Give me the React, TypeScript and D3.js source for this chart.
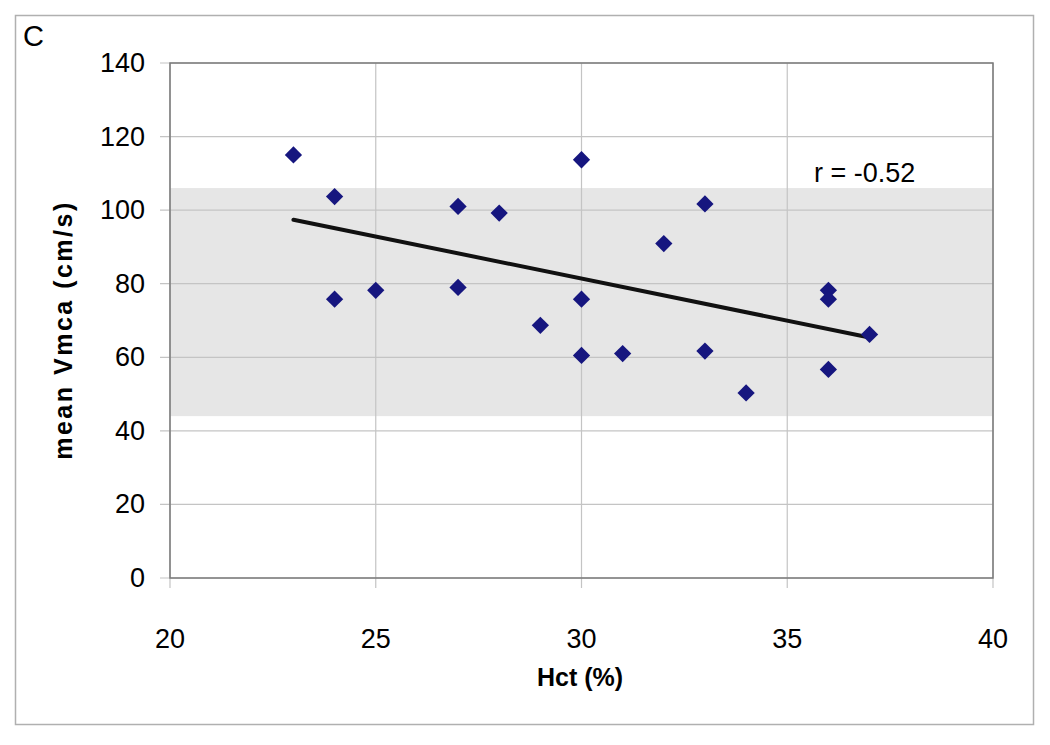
import * as d3 from 'd3';

const hct = [23, 24, 24, 25, 27, 27, 28, 29, 30, 30, 30, 31, 32, 33, 33, 34, 36, 36, 36, 37];
const vmca = [115, 103.7, 75.8, 78.2, 101, 79, 99.2, 68.7, 113.7, 75.8, 60.5, 61, 90.9, 101.7, 61.7, 50.3, 78.2, 75.8, 56.7, 66.2];
const trendX = [23, 37];
const trendY = [97.4, 65.4];
const bandRange = [44, 106];
const xTicks = [20, 25, 30, 35, 40];
const yTicks = [0, 20, 40, 60, 80, 100, 120, 140];

const W = 1050;
const H = 745;
const left = 170, right = 993, top = 63, bottom = 578;

const App = () => {
  const x = d3.scaleLinear().domain([20, 40]).range([left, right]);
  const y = d3.scaleLinear().domain([0, 140]).range([bottom, top]);
  const line = d3.line<number>().x((d, i) => x(trendX[i])).y(d => y(d));
  const diamond = d3.symbol().type(d3.symbolDiamond2).size(190)()!;

  return (
    <svg width={W} height={H} style={{ position: 'absolute', left: 0, top: 0 }}
      fontFamily="'Liberation Sans', Arial, sans-serif">
      <rect x={15.5} y={15.5} width={1018} height={709} fill="white" stroke="#b0b0b0" strokeWidth={1.5} />
      <text x={23} y={46} fontSize={29}>C</text>

      {/* reference band */}
      <rect x={left} y={y(bandRange[1])} width={right - left - 1} height={y(bandRange[0]) - y(bandRange[1])} fill="#e6e6e6" />

      {/* grid */}
      {yTicks.map(t => (
        <line key={'gy' + t} x1={left - 10} x2={right} y1={y(t)} y2={y(t)} stroke="#c4c4c4" strokeWidth={1.2} />
      ))}
      {xTicks.map(t => (
        <line key={'gx' + t} x1={x(t)} x2={x(t)} y1={top} y2={bottom + 10} stroke="#c4c4c4" strokeWidth={1.2} />
      ))}

      {/* plot frame */}
      <rect x={left} y={top} width={right - left} height={bottom - top} fill="none" stroke="#7a7a7a" strokeWidth={1.5} />

      {/* tick labels */}
      {yTicks.map(t => (
        <text key={'ly' + t} x={145} y={y(t) + 9} fontSize={27} textAnchor="end">{t}</text>
      ))}
      {xTicks.map(t => (
        <text key={'lx' + t} x={x(t)} y={648} fontSize={27} textAnchor="middle">{t}</text>
      ))}

      {/* axis titles */}
      <text x={580} y={686} fontSize={25} fontWeight="bold" textAnchor="middle">Hct (%)</text>
      <text transform="translate(72,330) rotate(-90)" fontSize={25} fontWeight="bold" textAnchor="middle" letterSpacing={2.5}>mean Vmca (cm/s)</text>

      {/* trend */}
      <path d={line(trendY)!} fill="none" stroke="#111" strokeWidth={4} strokeLinecap="round" />

      {/* points */}
      {hct.map((h, i) => (
        <path key={'p' + i} d={diamond} transform={`translate(${x(h)},${y(vmca[i])})`} fill="#16167f" />
      ))}

      <text x={814} y={182} fontSize={27}>r = -0.52</text>
    </svg>
  );
};

export default App;
